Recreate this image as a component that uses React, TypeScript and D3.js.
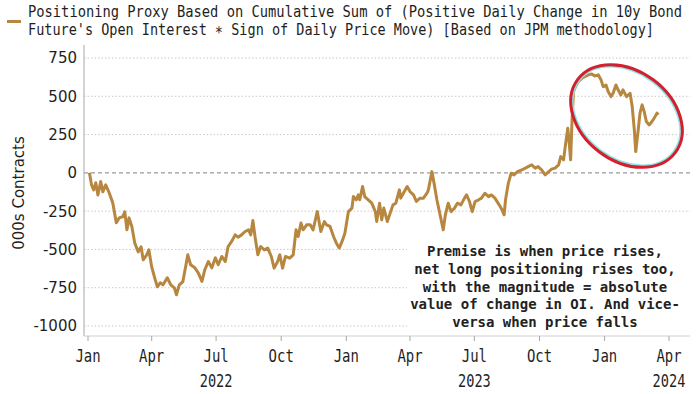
import React from "react";
import * as d3 from "d3";

// days since 2022-01-01 and positioning proxy (000s contracts)
const dayOffsets = [
  2, 5, 8, 11, 14, 18, 21, 25, 30, 35, 40, 44, 49, 52, 55, 58, 62, 66, 71, 75,
  78, 83, 86, 90, 95, 98, 102, 106, 112, 117, 122, 125, 129, 134, 139, 141, 145, 151, 156, 161,
  165, 170, 175, 180, 184, 189, 194, 198, 203, 208, 212, 217, 222, 227, 230, 233, 236, 240, 244, 249,
  254, 259, 263, 268, 271, 275, 279, 285, 290, 294, 297, 301, 304, 309, 314, 318, 324, 329, 334, 337,
  342, 347, 351, 355, 359, 363, 368, 373, 375, 379, 382, 384, 388, 391, 396, 401, 406, 408, 412, 415,
  418, 423, 427, 431, 435, 440, 442, 447, 451, 455, 460, 464, 469, 474, 479, 481, 486, 489, 493, 496,
  500, 502, 505, 509, 513, 518, 522, 527, 532, 535, 539, 543, 547, 552, 556, 561, 566, 570, 575, 581,
  585, 588, 590, 594, 598, 602, 607, 613, 618, 622, 627, 632, 636, 641, 646, 651, 655, 660, 665, 668,
  672, 675, 678, 680, 682, 684, 686, 689, 693, 698, 702, 707, 712, 716, 721, 725, 728, 732, 735, 739,
  742, 746, 749, 753, 756, 761, 766, 769, 772, 774, 777, 780, 783, 786, 789, 793, 797, 800, 804, 806,
];

const positioning = [
  0, -78, -111, -65, -144, -57, -124, -78, -131, -196, -326, -294, -287, -255, -372, -294, -352, -457, -516, -483,
  -568, -535, -503, -614, -698, -744, -718, -731, -685, -731, -751, -796, -731, -711, -587, -535, -600, -620, -655, -709,
  -633, -579, -620, -555, -600, -546, -579, -481, -448, -405, -420, -405, -383, -372, -405, -311, -416, -535, -481, -503,
  -491, -546, -622, -579, -535, -622, -546, -557, -535, -372, -416, -328, -372, -339, -339, -372, -253, -383, -318, -339,
  -350, -416, -459, -491, -448, -394, -253, -230, -155, -176, -144, -176, -89, -155, -176, -198, -253, -318, -198, -307,
  -230, -318, -263, -209, -198, -111, -165, -122, -89, -122, -144, -187, -165, -165, -133, -111, 8, -67, -176, -241,
  -328, -372, -274, -198, -253, -230, -198, -209, -165, -144, -187, -253, -187, -176, -165, -133, -155, -144, -165, -209,
  -241, -274, -176, -67, -2, -13, 8, 20, 31, 41, 52, 31, 41, 20, -13, 8, 24, 31, 52, 106,
  85, 194, 292, 194, 85, 346, 531, 563, 596, 618, 629, 640, 646, 633, 640, 607, 563, 574, 531, 498,
  520, 574, 542, 509, 542, 498, 520, 433, 281, 139, 259, 390, 444, 400, 335, 313, 335, 357, 390, 379,
];

const yTicks = [750, 500, 250, 0, -250, -500, -750, -1000];
const monthTickDates = [
  "2022-01-01", "2022-04-01", "2022-07-01", "2022-10-01",
  "2023-01-01", "2023-04-01", "2023-07-01", "2023-10-01",
  "2024-01-01", "2024-04-01",
];
const monthLabels = ["Jan", "Apr", "Jul", "Oct", "Jan", "Apr", "Jul", "Oct", "Jan", "Apr"];
const yearLabels = ["2022", "2023", "2024"];
const yearTickDates = ["2022-07-01", "2023-07-01", "2024-04-01"];

const titleLines = [
  "Positioning Proxy Based on Cumulative Sum of (Positive Daily Change in 10y Bond",
  "Future's Open Interest \u2217 Sign of Daily Price Move) [Based on JPM methodology]",
];
const noteLines = [
  "Premise is when price rises,",
  "net long positioning rises too,",
  "with the magnitude = absolute",
  "value of change in OI. And vice-",
  "versa when price falls",
];

const width = 700;
const height = 394;
const lineColor = "#b8873f";
const mono = "'DejaVu Sans Mono', monospace";

const parse = (s: string) => {
  const [y, m, d] = s.split("-").map(Number);
  return new Date(y, m - 1, d);
};
const start = new Date(2022, 0, 1);

const x = d3
  .scaleTime()
  .domain([new Date(2022, 0, 1), new Date(2024, 3, 1)])
  .range([88, 669]);

const y = d3.scaleLinear().domain([-1000, 750]).range([326, 58]);

const plotLeft = 84;
const plotRight = 690;
const plotTop = 45;
const plotBottom = 336;

const points = dayOffsets.map((d, i) => ({
  date: d3.timeDay.offset(start, d),
  value: positioning[i],
}));

const line = d3
  .line<{ date: Date; value: number }>()
  .x((d) => x(d.date))
  .y((d) => y(d.value))
  .curve(d3.curveLinear);

const App = () => {
  return (
    <svg
      width={width}
      height={height}
      style={{ position: "absolute", left: 0, top: 0, background: "#fff" }}
    >
      {/* title (condensed look: narrower font stretched vertically) */}
      <rect x={7} y={20} width={14} height={3} fill={lineColor} />
      {titleLines.map((t, i) => (
        <text
          key={i}
          transform={`translate(28, ${17 + i * 18}) scale(1, 1.16)`}
          fontFamily={mono}
          fontSize={13.8}
          fill="#1e1e1e"
          textLength={i === 0 ? 654 : 626}
          lengthAdjust="spacingAndGlyphs"
        >
          {t}
        </text>
      ))}

      {/* grid */}
      {yTicks.map((t) => (
        <line
          key={t}
          x1={plotLeft}
          x2={plotRight}
          y1={y(t)}
          y2={y(t)}
          stroke={t === 0 ? "#9a9a9a" : "#c9c9c9"}
          strokeWidth={t === 0 ? 1.2 : 1}
          strokeDasharray={t === 0 ? "4,3" : "1.5,2"}
        />
      ))}

      {/* axes */}
      <line x1={plotLeft} x2={plotLeft} y1={plotTop} y2={plotBottom} stroke="#a8a8a8" />
      <line x1={plotLeft} x2={plotRight} y1={plotBottom} y2={plotBottom} stroke="#d0d0d0" />
      {yTicks.map((t) => (
        <text
          key={t}
          x={77}
          y={y(t)}
          dy="0.36em"
          textAnchor="end"
          fontFamily="'DejaVu Sans', sans-serif"
          fontSize={15}
          fill="#1e1e1e"
        >
          {t}
        </text>
      ))}
      <text
        transform={`translate(24, 193) rotate(-90)`}
        textAnchor="middle"
        fontFamily="'DejaVu Sans', sans-serif"
        fontSize={15}
        fill="#1e1e1e"
      >
        000s Contracts
      </text>

      {monthTickDates.map((d, i) => {
        const px = x(parse(d));
        return (
          <g key={d}>
            <line x1={px} x2={px} y1={plotBottom} y2={plotBottom + 5} stroke="#a8a8a8" />
            <text
              x={px}
              y={362}
              textAnchor="middle"
              fontFamily={mono}
              fontSize={17}
              fill="#1e1e1e"
              textLength={monthLabels[i].length * 8.4}
              lengthAdjust="spacingAndGlyphs"
            >
              {monthLabels[i]}
            </text>
          </g>
        );
      })}
      {yearTickDates.map((d, i) => (
        <text
          key={d}
          x={x(parse(d))}
          y={387}
          textAnchor="middle"
          fontFamily={mono}
          fontSize={17}
          fill="#1e1e1e"
          textLength={yearLabels[i].length * 8.2}
          lengthAdjust="spacingAndGlyphs"
        >
          {yearLabels[i]}
        </text>
      ))}

      {/* series */}
      <path
        d={line(points) || ""}
        fill="none"
        stroke={lineColor}
        strokeWidth={3}
        strokeLinejoin="round"
      />

      {/* annotation */}
      <rect x={407} y={236} width={plotRight - 407} height={plotBottom - 238} fill="#fff" />
      {noteLines.map((t, i) => (
        <text
          key={i}
          x={545}
          y={256 + i * 17.8}
          textAnchor="middle"
          fontFamily={mono}
          fontSize={14}
          fontWeight={600}
          fill="#222"
        >
          {t}
        </text>
      ))}

      {/* highlight ellipse */}
      <g transform="translate(626.5,116) rotate(37)">
        <ellipse rx={59} ry={43} fill="none" stroke="#8ee3e6" strokeWidth={2} />
        <ellipse rx={61} ry={45} fill="none" stroke="#d3202e" strokeWidth={3} />
      </g>
    </svg>
  );
};

export default App;
